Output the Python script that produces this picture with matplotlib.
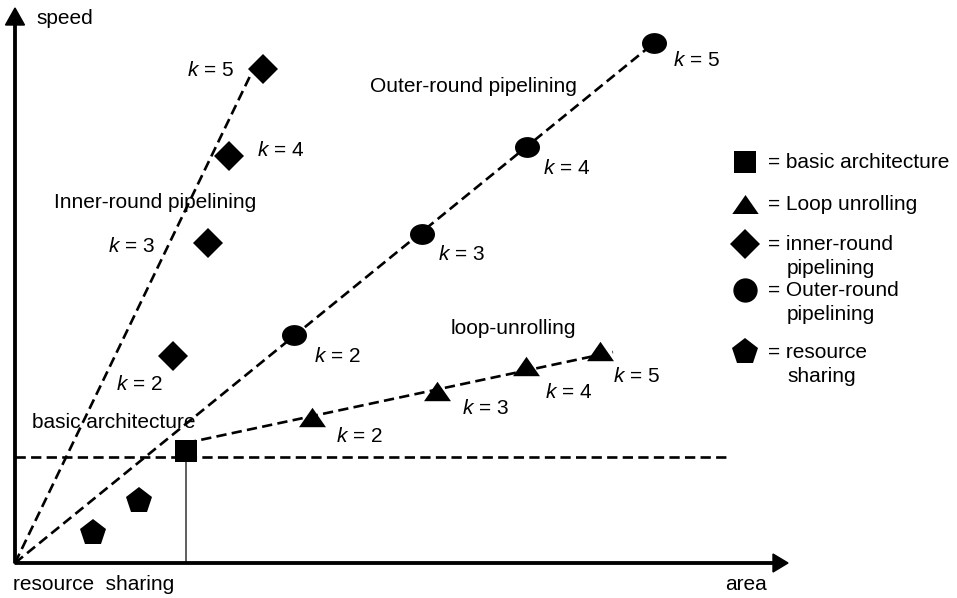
import numpy as np
import matplotlib
matplotlib.use("Agg")
import matplotlib.pyplot as plt
from matplotlib.path import Path
from matplotlib.transforms import Affine2D

plt.rcParams["font.family"] = ["Liberation Sans", "DejaVu Sans"]
plt.rcParams["mathtext.fontset"] = "custom"
plt.rcParams["mathtext.rm"] = "Liberation Sans"
plt.rcParams["mathtext.it"] = "Liberation Sans:italic"

# ---- design points (area, speed) ----
basic_area, basic_speed = 171, 112
baseline_speed = 106

resource_area = [78, 124]
resource_speed = [30, 62]

inner_k = [2, 3, 4, 5]
inner_area = [158, 193, 214, 248]
inner_speed = [207, 320, 407, 494]

outer_k = [2, 3, 4, 5]
outer_area = [279, 407, 512, 639]
outer_speed = [228, 329, 416, 520]

loop_k = [2, 3, 4, 5]
loop_area = [297, 422, 511, 585]
loop_speed = [146, 172, 197, 212]

# trend lines
inner_trend_area = [0, 237]
inner_trend_speed = [0, 491]
loop_trend_area = [171, 598]
loop_trend_speed = [120, 211]
baseline_end_area = 711

# label offsets (pixels) for the k labels
inner_label_off = [(-57, -28), (-100, -4), (28, 5), (-76, -1)]
outer_label_off = [(20, -22), (16, -21), (16, -22), (19, -17)]
loop_label_off = [(24, -19), (25, -17), (19, -27), (13, -26)]

legend_entries = [
    ("s", ["= basic architecture"]),
    ("tri", ["= Loop unrolling"]),
    ("D", ["= inner-round", "pipelining"]),
    ("o", ["= Outer-round", "pipelining"]),
    ("p", ["= resource", "sharing"]),
]

W, H = 957, 598
x0, y0 = 15, 563  # origin in pixels
fig = plt.figure(figsize=(W / 100, H / 100), dpi=100)
ax = fig.add_axes([0, 0, 1, 1])
ax.set_xlim(-x0, W - x0)
ax.set_ylim(y0 - H, y0)
ax.axis("off")

FS = 15
LW = 1.9
dash = (0, (3.9, 2.0))

ellipse = Path.unit_circle().transformed(Affine2D().scale(1.2, 1.0))
tri = Path([(-1, -0.72), (1, -0.72), (0, 0.72), (-1, -0.72)],
           [Path.MOVETO, Path.LINETO, Path.LINETO, Path.CLOSEPOLY])

# axes arrows
ax.arrow(0, 0, 788 - x0, 0, width=2.4, head_width=18, head_length=15,
         length_includes_head=True, color="black", zorder=3)
ax.arrow(0, 0, 0, y0 - 8, width=2.4, head_width=19, head_length=17,
         length_includes_head=True, color="black", zorder=3)

# guide lines
ax.plot([0, baseline_end_area], [baseline_speed, baseline_speed],
        color="black", lw=LW, linestyle=dash)
ax.plot([basic_area, basic_area], [0, basic_speed], color="#333333", lw=1.1)
ax.plot(inner_trend_area, inner_trend_speed, color="black", lw=LW, linestyle=dash)
ax.plot([0, outer_area[-1]], [0, outer_speed[-1]], color="black", lw=LW, linestyle=dash)
ax.plot(loop_trend_area, loop_trend_speed, color="black", lw=LW, linestyle=dash)

# markers
mk = dict(color="black", linestyle="none", markeredgewidth=0, zorder=4)
ax.plot([basic_area], [basic_speed], marker="s", markersize=15.8, **mk)
ax.plot(resource_area, resource_speed, marker="p", markersize=20.4, **mk)
ax.plot(inner_area, inner_speed, marker="D", markersize=14.8, **mk)
ax.plot(outer_area, outer_speed, marker=ellipse, markersize=18, **mk)
ax.plot(loop_area, loop_speed, marker=tri, markersize=19.4, **mk)

# k labels
for ks, xs, ys, offs in [(inner_k, inner_area, inner_speed, inner_label_off),
                         (outer_k, outer_area, outer_speed, outer_label_off),
                         (loop_k, loop_area, loop_speed, loop_label_off)]:
    for k, x, y, (dx, dy) in zip(ks, xs, ys, offs):
        ax.text(x + dx, y + dy, f"$k$ = {k}", fontsize=FS, ha="left", va="center")

# series names
ax.text(21, 544, "speed", fontsize=FS, va="center")
ax.text(-2, -21, "resource  sharing", fontsize=FS, va="center")
ax.text(710, -21, "area", fontsize=FS, va="center")
ax.text(17, 141, "basic architecture", fontsize=FS, va="center")
ax.text(39, 360, "Inner-round pipelining", fontsize=FS, va="center")
ax.text(355, 476, "Outer-round pipelining", fontsize=FS, va="center")
ax.text(436, 234, "loop-unrolling", fontsize=FS, va="center")

# key
key_x = 730
key_rows = [401, 359, 319, 273, 211]
key_sizes = {"s": 15.8, "tri": 19, "D": 14.8, "o": 17.5, "p": 20.4}
key_markers = {"s": "s", "tri": tri, "D": "D", "o": "o", "p": "p"}
for (m, lines), ky in zip(legend_entries, key_rows):
    ax.plot([key_x], [ky], marker=key_markers[m], markersize=key_sizes[m], **mk)
    ax.text(753, ky, lines[0], fontsize=FS, va="center")
    if len(lines) > 1:
        ax.text(772, ky - 24, lines[1], fontsize=FS, va="center")

fig.savefig("out.png", dpi=100)
